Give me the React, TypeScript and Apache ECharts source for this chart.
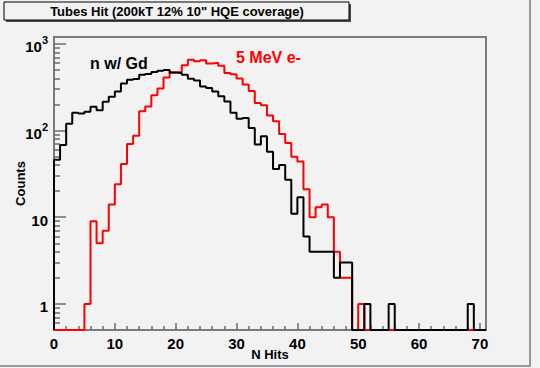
import React, { useEffect, useRef } from 'react';
import * as echarts from 'echarts';

// ---- Data (one bin per unit of N Hits, bins start at 0) ----
const binWidth = 1;
const xMin = 0;
const xMax = 71;
const yMin = 0.5;
const yMax = 1200;

const nGdCounts = [
  46, 68, 120, 160, 157, 165, 188, 172, 215, 245,
  283, 350, 385, 393, 440, 450, 475, 490, 500, 468,
  462, 440, 395, 378, 323, 310, 283, 248, 217, 160,
  137, 140, 107, 69, 86, 57, 36, 40, 27, 11,
  17, 6, 4, 4, 4, 4, 2, 3, 3, 0,
  0, 1, 0, 0, 0, 1, 0, 0, 0, 0,
  0, 0, 0, 0, 0, 0, 0, 0, 1, 0,
  0,
];

const electronCounts = [
  0, 0, 0, 0, 0, 1, 9, 5, 7, 14,
  24, 41, 70, 87, 167, 190, 255, 305, 410, 468,
  475, 565, 655, 630, 645, 595, 605, 559, 460, 445,
  398, 340, 285, 208, 196, 149, 128, 91, 72, 50,
  44, 21, 10, 13, 14, 10, 4, 2, 2, 0,
  1, 0, 0, 0, 0, 0, 0, 0, 0, 0,
  0, 0, 0, 0, 0, 0, 0, 0, 0, 0,
  0,
];

const xMajorTicks = [0, 10, 20, 30, 40, 50, 60, 70];
const xMinorTicks = [2, 4, 6, 8, 12, 14, 16, 18, 22, 24, 26, 28, 32, 34, 36, 38, 42, 44, 46, 48, 52, 54, 56, 58, 62, 64, 66, 68];
const yMajorTicks = [1, 10, 100, 1000];
const yMajorLabelBase = ['1', '10', '10', '10'];
const yMajorLabelExp = ['', '', '2', '3'];
const yMinorTicks = [0.6, 0.7, 0.8, 0.9, 2, 3, 4, 5, 6, 7, 8, 9, 20, 30, 40, 50, 60, 70, 80, 90, 200, 300, 400, 500, 600, 700, 800, 900];

const titleText = 'Tubes Hit (200kT 12% 10" HQE coverage)';
const nGdLabel = 'n w/ Gd';
const electronLabel = '5 MeV e-';
const xName = 'N Hits';
const yName = 'Counts';

const FONT = '"Liberation Sans", Arial, Helvetica, sans-serif';

function toSteps(counts: number[]): [number, number][] {
  const pts: [number, number][] = [[xMin, yMin]];
  counts.forEach((c, i) => {
    const v = c > 0 ? c : yMin;
    const lo = xMin + i * binWidth;
    pts.push([lo, v], [lo + binWidth, v]);
  });
  pts.push([xMin + counts.length * binWidth, yMin]);
  return pts;
}

export default function App() {
  const ref = useRef<HTMLDivElement>(null);
  useEffect(() => {
    const chart = echarts.init(ref.current!, null, { renderer: 'svg' });
    const logMin = Math.log10(yMin);
    const logMax = Math.log10(yMax);
    const majorLog = yMajorTicks.map((t) => Math.log10(t));
    const minorLog = yMinorTicks.map((t) => Math.log10(t));
    const frameColor = '#7a7a7a';
    const tickColor = '#6a6a6a';

    chart.setOption({
      animation: false,
      backgroundColor: '#f2f2f2',
      grid: {
        left: 54, right: 54, top: 37, bottom: 38,
        containLabel: false, outerBoundsMode: 'none',
        show: true, borderColor: frameColor, borderWidth: 2, backgroundColor: 'transparent',
      },
      xAxis: [
        {
          type: 'value', position: 'bottom', min: xMin, max: xMax, interval: 10,
          axisLine: { show: true, onZero: false, lineStyle: { color: frameColor, width: 2 } },
          axisTick: { show: true, inside: true, length: 7, customValues: xMajorTicks, lineStyle: { color: tickColor, width: 1.5 } },
          axisLabel: {
            customValues: xMajorTicks, margin: 6, color: '#000',
            fontFamily: FONT, fontWeight: 'bold', fontSize: 15,
          },
          splitLine: { show: false },
          name: xName, nameLocation: 'middle', nameGap: 18, nameMoveOverlap: false,
          nameTextStyle: { fontFamily: FONT, fontWeight: 'bold', fontSize: 13, color: '#000' },
        },
        {
          type: 'value', position: 'bottom', min: xMin, max: xMax,
          axisLine: { show: false, onZero: false },
          axisTick: { show: true, inside: true, length: 4, customValues: xMinorTicks, lineStyle: { color: tickColor, width: 1.5 } },
          axisLabel: { show: false },
          splitLine: { show: false },
        },
      ],
      yAxis: [
        {
          type: 'log', logBase: 10, position: 'left', min: yMin, max: yMax,
          axisLine: { show: false, onZero: false },
          axisTick: { show: false },
          axisLabel: { show: false },
          splitLine: { show: false },
        },
        {
          type: 'value', position: 'left', min: logMin, max: logMax,
          axisLine: { show: true, onZero: false, lineStyle: { color: frameColor, width: 2 } },
          axisTick: { show: true, inside: true, length: 12, customValues: majorLog, lineStyle: { color: tickColor, width: 1.5 } },
          axisLabel: {
            customValues: majorLog, margin: 6, color: '#000',
            fontFamily: FONT, fontWeight: 'bold', fontSize: 15,
            formatter: (v: number) => {
              const k = majorLog.findIndex((m) => Math.abs(m - v) < 1e-6);
              if (k < 0) return '';
              return yMajorLabelExp[k]
                ? `{b|${yMajorLabelBase[k]}}{s|${yMajorLabelExp[k]}}`
                : `{b|${yMajorLabelBase[k]}}`;
            },
            rich: {
              b: { fontFamily: FONT, fontWeight: 'bold', fontSize: 15, color: '#000', padding: [6, 0, 0, 0] },
              s: { fontFamily: FONT, fontWeight: 'bold', fontSize: 11, color: '#000', padding: [0, 0, 8, 0] },
            },
          },
          splitLine: { show: false },
          name: yName, nameLocation: 'middle', nameGap: 27, nameMoveOverlap: false,
          nameTextStyle: { fontFamily: FONT, fontWeight: 'bold', fontSize: 13, color: '#000' },
        },
        {
          type: 'value', position: 'left', min: logMin, max: logMax,
          axisLine: { show: false, onZero: false },
          axisTick: { show: true, inside: true, length: 6, customValues: minorLog, lineStyle: { color: tickColor, width: 1.5 } },
          axisLabel: { show: false },
          splitLine: { show: false },
        },
      ],
      series: [
        {
          name: electronLabel, type: 'line', xAxisIndex: 0, yAxisIndex: 0,
          data: toSteps(electronCounts), showSymbol: false, symbol: 'none',
          lineStyle: { color: '#ff0000', width: 2 }, z: 3,
        },
        {
          name: nGdLabel, type: 'line', xAxisIndex: 0, yAxisIndex: 0,
          data: toSteps(nGdCounts), showSymbol: false, symbol: 'none',
          lineStyle: { color: '#000000', width: 2 }, z: 4,
        },
      ],
      graphic: [
        { type: 'line', shape: { x1: 530, y1: 0, x2: 530, y2: 366 }, style: { stroke: '#9a9a9a', lineWidth: 2 }, silent: true },
        { type: 'line', shape: { x1: 0, y1: 366, x2: 531, y2: 366 }, style: { stroke: '#9a9a9a', lineWidth: 2 }, silent: true },
        { type: 'rect', shape: { x: 6, y: 4, width: 345, height: 18 }, style: { fill: '#4a4a4a' }, silent: true },
        { type: 'rect', shape: { x: 4, y: 2, width: 345, height: 18 }, style: { fill: '#f2f2f2', stroke: '#000', lineWidth: 1 }, silent: true },
        {
          type: 'text', x: 177, y: 11.5, silent: true,
          style: { text: titleText, fontFamily: FONT, fontWeight: 'bold', fontSize: 13, fill: '#000', align: 'center', verticalAlign: 'middle' },
        },
        {
          type: 'text', x: 90, y: 63, silent: true,
          style: { text: nGdLabel, fontFamily: FONT, fontWeight: 'bold', fontSize: 16, fill: '#000', align: 'left', verticalAlign: 'middle' },
        },
        {
          type: 'text', x: 236, y: 57.5, silent: true,
          style: { text: electronLabel, fontFamily: FONT, fontWeight: 'bold', fontSize: 16, fill: '#ff0000', align: 'left', verticalAlign: 'middle' },
        },
      ],
    });
    return () => chart.dispose();
  }, []);
  return <div ref={ref} style={{ position: 'fixed', left: 0, top: 0, width: 540, height: 368 }} />;
}
